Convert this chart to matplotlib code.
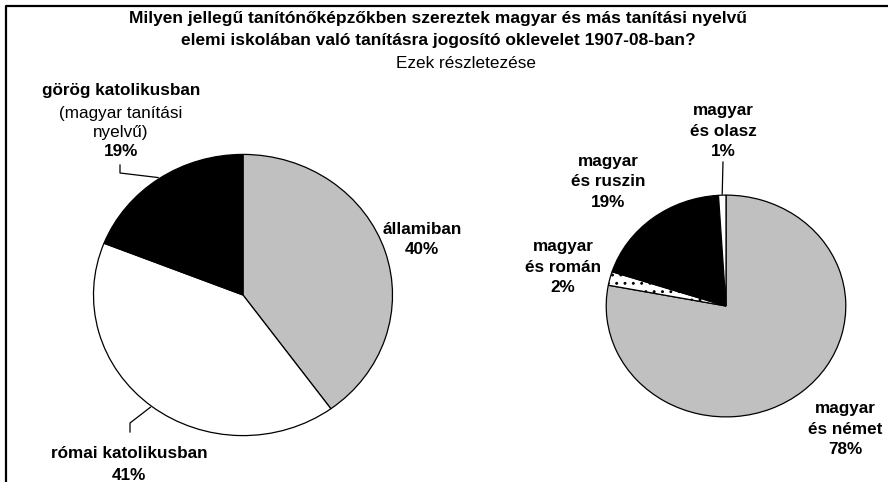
import numpy as np
import matplotlib.pyplot as plt

plt.rcParams['font.family'] = ['Liberation Sans', 'DejaVu Sans']
plt.rcParams['hatch.linewidth'] = 0.9

W, H = 888, 482

# data
title_lines = ["Milyen jellegű tanítónőképzőkben szereztek magyar és más tanítási nyelvű",
               "elemi iskolában való tanításra jogosító oklevelet 1907-08-ban?"]
subtitle = "Ezek részletezése"

left_labels = ["államiban", "római katolikusban", "görög katolikusban"]
left_notes = ["", "", "(magyar tanítási\nnyelvű)"]
left_values = [40, 41, 19]
left_colors = ["#c0c0c0", "white", "black"]

right_labels = ["magyar\nés német", "magyar\nés román", "magyar\nés ruszin", "magyar\nés olasz"]
right_values = [78, 2, 19, 1]
right_colors = ["#c0c0c0", "white", "black", "white"]
right_hatches = [None, "..", None, None]

fig = plt.figure(figsize=(W / 100, H / 100), dpi=100)


def add_pie(cx, cy, rx, ry, values, colors, hatches=None):
    ax = fig.add_axes([(cx - rx) / W, (H - cy - ry) / H, 2 * rx / W, 2 * ry / H])
    wedges, _ = ax.pie(values, colors=colors, startangle=90, counterclock=False,
                       wedgeprops=dict(edgecolor="black", linewidth=0.9))
    if hatches:
        for w, h in zip(wedges, hatches):
            if h:
                w.set_hatch(h)
    ax.set_aspect("auto")
    ax.set_xlim(-1.01, 1.01)
    ax.set_ylim(-1.01, 1.01)
    ax.axis("off")
    # clockwise angle from top of each wedge's middle
    cum = np.cumsum(values)
    mids = (cum - np.array(values) / 2) / sum(values) * 360
    return mids


# pies
lcx, lcy, lrx, lry = 243, 295, 151, 142
rcx, rcy, rrx, rry = 726, 306, 121, 112
lmid = add_pie(lcx, lcy, lrx, lry, left_values, left_colors)
rmid = add_pie(rcx, rcy, rrx, rry, right_values, right_colors, right_hatches)

# overlay in pixel coordinates
ov = fig.add_axes([0, 0, 1, 1], facecolor="none")
ov.set_xlim(0, W)
ov.set_ylim(H, 0)
ov.axis("off")

# frame
ov.plot([6, 6, W], [H, 6, 6], color="black", lw=1.6, solid_capstyle="butt")

ov.text(438, 18, title_lines[0], ha="center", va="center", fontsize=12.5, fontweight="bold")
ov.text(438, 41, title_lines[1], ha="center", va="center", fontsize=12.5, fontweight="bold")
ov.text(466, 63, subtitle, ha="center", va="center", fontsize=12.3)


def edge(cx, cy, rx, ry, ang):
    t = np.deg2rad(ang)
    return cx + rx * np.sin(t), cy - ry * np.cos(t)


fs = 12.3
# left pie labels
ov.text(422, 229, left_labels[0], ha="center", va="center", fontsize=fs, fontweight="bold")
ov.text(422, 250, f"{left_values[0]}%", ha="center", va="center", fontsize=fs, fontweight="bold")

ov.text(121, 90, left_labels[2], ha="center", va="center", fontsize=fs, fontweight="bold")
ov.text(121, 123, left_notes[2], ha="center", va="center", fontsize=fs, linespacing=1.4)
ov.text(121, 152, f"{left_values[2]}%", ha="center", va="center", fontsize=fs, fontweight="bold")
ex, ey = edge(lcx, lcy, lrx, lry, lmid[2])
ov.plot([120, 120, ex], [165, 173, ey], color="black", lw=0.9)

ov.text(129, 453, left_labels[1], ha="center", va="center", fontsize=fs, fontweight="bold")
ov.text(129, 475, f"{left_values[1]}%", ha="center", va="center", fontsize=fs, fontweight="bold")
ex, ey = edge(lcx, lcy, lrx, lry, lmid[1])
ov.plot([130, 130, ex], [432, 423, ey], color="black", lw=0.9)

# right pie labels
rpos = [(845, 429), (563, 267), (608, 182), (723, 131)]
for lab, v, (x, y) in zip(right_labels, right_values, rpos):
    ov.text(x, y, f"{lab}\n{v}%", ha="center", va="center", fontsize=fs,
            fontweight="bold", linespacing=1.45)
ex, ey = edge(rcx, rcy, rrx, rry, rmid[3])
ov.plot([723, ex], [162, ey], color="black", lw=0.9)

fig.savefig("out.png", dpi=100)
